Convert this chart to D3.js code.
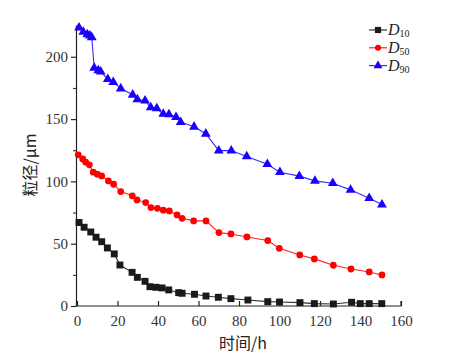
<!DOCTYPE html>
<html><head><meta charset="utf-8">
<script src="https://cdn.jsdelivr.net/npm/d3@7"></script>
<style>body{margin:0;background:#fff}</style>
</head><body>
<svg id="c" width="470" height="364"></svg>
<script>
const seriesNames = ["10", "50", "90"];
const d10x = [1,3.5,6.8,9.4,12.2,15,18.4,21.2,27.2,29.8,33.6,36,39,42,45.3,50.2,51.9,58,63.7,69.8,76,84.4,94.2,100,110.1,117.2,126.6,135.6,139.9,144.3,150.5];
const d10y = [67,63.2,59.4,55.2,51.6,46.6,41.8,32.9,27,23,19.8,15.5,15,14.5,12.9,10.7,10.2,9.4,8,7,5.9,4.8,3.5,3.2,2.7,1.9,1.6,3,1.9,1.9,1.9];
const d50x = [0.6,2.8,4.3,6.1,8,10,12.2,15.5,18.1,21.6,27.3,29.6,33.9,36.5,39.7,42.6,45.6,49.4,51.9,57.6,63.7,70.1,76,83.9,94.2,99.9,110,117.2,126.6,135.3,144.3,150.6];
const d50y = [121.3,118,115.4,113.3,107.4,105.8,104.4,100.4,97.7,91.8,88.4,85.1,83,79,78.4,76.9,76.3,73.1,70.4,68.3,68.3,58.9,57.8,55.4,52.5,46.3,41,37.8,32.7,29.7,27.3,24.9];
const d90x = [1,3.1,5.1,6.4,7.3,8.5,10.5,11.7,15.2,17.9,21.6,27.5,29.8,33.6,36.4,39.4,42.6,45.4,48.9,51.2,57.8,63.6,70,76.2,83.8,94,100.2,109.8,117.5,126.3,135.1,144.3,150.6];
const d90y = [223.3,220,218,217,215.5,191,189,188,182,179.7,174.5,169.5,165.7,164.7,159.3,158.5,154.2,153.7,151.6,147.6,143.8,138.2,124.7,124.7,120,113.8,107.4,104.2,100.4,98.5,93.2,86.5,81.4];
const xTicks = [0,20,40,60,80,100,120,140,160];
const yTicks = [0,50,100,150,200];
const yMinor = [25,75,125,175];
const xTitle = "时间/h";
const yTitle = "粒径/μm";

const svg = d3.select("#c");
const x = d3.scaleLinear().domain([-0.5,160]).range([76,401]);
const y = d3.scaleLinear().domain([0,225.5]).range([306,25]);
const serif = "'Liberation Serif','Times New Roman',serif";

const series = [
  {name:seriesNames[0], xs:d10x, ys:d10y, color:"#1a1a1a", line:"#333", sym:d3.symbolSquare, size:48},
  {name:seriesNames[1], xs:d50x, ys:d50y, color:"#ff0000", line:"#ff2020", sym:d3.symbolCircle, size:36},
  {name:seriesNames[2], xs:d90x, ys:d90y, color:"#1a00ff", line:"#3a2aff", sym:d3.symbolTriangle, size:42}
];

// axes
const gx = svg.append("g").attr("transform","translate(0,306)")
  .call(d3.axisBottom(x).tickValues(xTicks).tickSizeInner(-5).tickSizeOuter(0).tickPadding(9));
const gy = svg.append("g").attr("transform","translate(76,0)")
  .call(d3.axisLeft(y).tickValues(yTicks).tickSize(5).tickSizeOuter(0).tickPadding(3));
svg.append("g").attr("transform","translate(76,0)")
  .call(d3.axisLeft(y).tickValues(yMinor).tickSize(3).tickFormat(""))
  .select(".domain").remove();
[gx,gy].forEach(g=>{
  g.selectAll("text").attr("font-family",serif).attr("font-size",15).attr("fill","#333");
  g.selectAll("line,path").attr("stroke","#222").attr("stroke-width",1.2);
});
gx.select(".domain").attr("d","M76,0H401V-5");
svg.selectAll("g line").attr("stroke","#222");

// lines & points
const line = d3.line().x(d=>x(d[0])).y(d=>y(d[1]));
series.forEach(s=>{
  const pts = s.xs.map((v,i)=>[v,s.ys[i]]);
  svg.append("path").attr("d",line(pts)).attr("fill","none").attr("stroke",s.line).attr("stroke-width",1.1);
  svg.append("g").selectAll("path").data(pts).join("path")
    .attr("transform",d=>`translate(${x(d[0])},${y(d[1])})`)
    .attr("d",d3.symbol().type(s.sym).size(s.size)).attr("fill",s.color);
});

// titles
svg.append("text").attr("x",243).attr("y",349).attr("text-anchor","middle")
  .attr("font-family","'Noto Sans CJK SC',sans-serif").attr("font-size",16).attr("fill","#222").text(xTitle);
svg.append("text").attr("transform","translate(36,165) rotate(-90)").attr("text-anchor","middle")
  .attr("font-family","'Noto Sans CJK SC',sans-serif").attr("font-size",16).attr("fill","#222").text(yTitle);

// legend
series.forEach((s,i)=>{
  const ly = 30 + i*17.8;
  svg.append("line").attr("x1",369).attr("x2",387).attr("y1",ly).attr("y2",ly).attr("stroke",s.line).attr("stroke-width",1.2);
  svg.append("path").attr("transform",`translate(378,${ly})`).attr("d",d3.symbol().type(s.sym).size(s.size*0.8)).attr("fill",s.color);
  const t = svg.append("text").attr("x",388).attr("y",ly+5).attr("font-family",serif).attr("fill","#222");
  t.append("tspan").attr("font-style","italic").attr("font-size",16).text("D");
  t.append("tspan").attr("font-size",10).attr("dy",2).text(s.name);
});
</script>
</body></html>
